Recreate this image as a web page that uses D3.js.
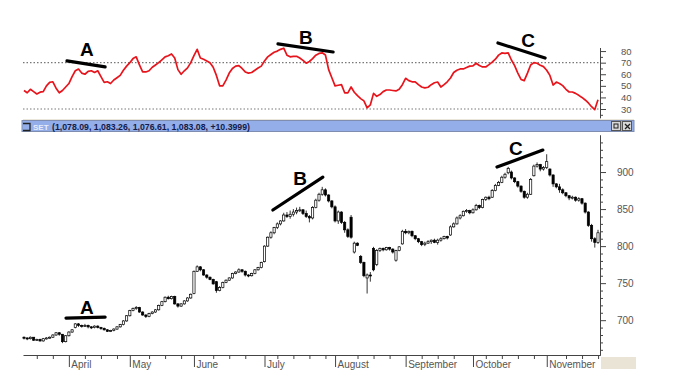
<!DOCTYPE html>
<html>
<head>
<meta charset="utf-8">
<script src="https://cdn.jsdelivr.net/npm/d3@7"></script>
<style>
  body { margin: 0; background: #fff; }
  svg { display: block; font-family: "Liberation Sans", Arial, sans-serif; }
</style>
</head>
<body>
<div id="chart"></div>
<script>
// daily candles [open, high, low, close], one per trading day
const candles = [
  [677,678,674,676],[676,677,673,675],[675,678,674,677],[677,677,672,673],[673,675,672,674],
  [674,675,671,672],[672,676,671,675],[675,677,674,676],[676,678,675,677],[677,681,676,680],
  [680,684,679,683],[683,684,679,681],[681,681,669,671],[671,680,670,679],[679,685,678,684],
  [684,688,683,687],[690,696,689,695],[695,696,691,693],[693,694,690,692],[692,695,691,693],
  [693,694,689,691],[691,692,688,690],[690,693,689,692],[692,693,689,690],[690,691,687,689],
  [689,690,686,687],[687,688,684,685],[685,687,684,686],[686,689,685,688],[688,692,687,691],
  [691,695,690,694],[694,700,693,699],[699,707,698,706],[706,714,705,713],[713,717,712,716],
  [716,719,714,717],[717,718,710,711],[711,712,706,707],[707,708,703,705],[705,710,704,709],
  [709,712,708,711],[711,715,710,714],[714,721,713,720],[720,726,719,725],[725,732,724,731],
  [731,733,728,729],[729,733,728,732],[732,733,721,722],[722,723,717,719],[719,723,718,722],
  [722,727,721,726],[726,731,725,730],[730,736,729,735],[736,767,735,766],[766,774,765,772],
  [772,773,766,768],[768,769,760,761],[761,762,756,758],[758,759,754,755],[755,756,748,749],
  [752,753,737,740],[740,746,739,744],[744,752,743,751],[751,755,750,754],[754,758,753,757],
  [757,764,756,763],[763,766,762,765],[765,770,764,768],[768,769,764,766],[766,767,759,761],
  [761,762,758,760],[760,764,759,763],[763,769,762,768],[768,772,767,771],[771,779,770,778],
  [779,801,778,800],[800,813,799,812],[812,820,810,818],[818,826,816,825],[825,832,823,830],
  [830,835,828,834],[834,845,833,842],[842,846,838,840],[840,848,837,843],[843,850,840,846],
  [846,852,843,848],[848,853,846,849],[849,850,842,844],[844,848,838,840],[840,842,832,838],
  [838,854,836,852],[852,864,851,862],[862,872,860,870],[870,880,868,876],[876,878,867,869],
  [869,870,859,861],[861,862,851,853],[853,855,832,834],[834,848,830,846],[846,847,830,832],
  [832,834,818,822],[822,824,811,813],[839,842,810,812],[792,806,790,804],[804,805,800,801],
  [786,788,776,778],[778,779,758,760],[757,763,736,761],[761,765,752,760],[797,799,766,768],
  [775,796,773,794],[794,798,792,797],[797,798,793,795],[795,799,794,798],[798,799,794,796],
  [796,797,790,792],[781,795,779,794],[794,800,793,799],[803,822,802,820],[820,823,816,818],
  [818,821,816,820],[820,821,812,814],[814,815,808,810],[810,811,804,806],[806,807,800,802],
  [802,806,800,804],[804,808,803,806],[806,809,803,808],[808,810,804,805],[805,810,802,808],
  [808,812,806,810],[810,814,809,813],[813,814,809,811],[815,828,814,826],[826,832,825,830],
  [830,840,829,838],[838,843,836,841],[841,848,840,847],[847,850,845,848],[848,849,843,845],
  [845,851,844,849],[849,857,848,855],[855,856,850,852],[852,864,851,863],[863,867,861,866],
  [866,868,862,864],[866,877,865,875],[875,884,874,882],[882,888,881,886],[886,895,885,893],
  [893,899,891,897],[899,907,897,905],[900,902,890,892],[892,893,885,887],[887,888,879,881],
  [881,882,872,874],[874,875,864,866],[866,872,864,870],[870,892,869,890],[895,910,894,908],
  [908,913,906,910],[910,911,901,904],[904,908,902,906],[906,924,904,914],[904,905,894,896],
  [896,897,880,884],[884,885,878,880],[880,884,872,876],[876,878,870,872],[872,873,866,868],
  [868,869,862,865],[865,868,863,866],[866,867,860,862],[862,866,860,864],[864,865,856,858],
  [858,859,844,846],[846,847,826,828],[828,830,806,810],[810,812,798,805],[805,822,803,818]
];

// RSI, same trading days
const rsi = [
  46,44,47,45,43,44.5,45,50,53,53.5, 48,44,46,49,52,58,63,64.5,61,60,
  62.5,63,61.5,63,58,53,53.5,52,55,57, 59,63.5,67,70,73.5,75,68,62,62,63,
  66,68,70,72.5,75,76,77.5,74,64,60, 63,65.5,70,76,81.5,74,73,71.5,70,66,
  59,50,50,55,61,65,67,67.5,65,62, 61,61.5,63.5,65.4,67,71.5,75,77,79,80,
  81.5,82.5,76.5,75,75.5,75.5,74,72,69.5,71, 73.5,76.5,78,78.5,76.6,64,57,50,50.5,51,
  44,44,49,44.5,41.5,39,37,31,33.5,43.5, 41,42.5,45,46.4,46.4,46,45.6,47,51,56.5,
  54.5,53.5,53.5,51,49,48.2,48.8,51,52.7,53.3, 49,51,53.5,56.8,61.5,63.5,64.6,64.6,65.8,67,
  67.2,69.5,67.5,66.3,66.3,68.3,70.5,73,76.5,78.4, 78,78.4,72.3,67.5,61,55.5,54.5,61,68,70,
  69.5,67.8,66.6,63.5,59,50.7,53.3,52,50.2,47, 44.7,44.7,43.5,41.8,40,37.8,35.2,32,29.5,38
];

const monthNames = ["April", "May", "June", "July", "August", "September", "October", "November"];
const monthStarts = [14, 33, 53, 75, 97, 119, 140, 163];
const priceTicks = [700, 750, 800, 850, 900];
const rsiTicks = [30, 40, 50, 60, 70, 80];
const rsiLevels = [70, 30];
const headerText = "(1,078.09, 1,083.26, 1,076.61, 1,083.08, +10.3999)";

// hand-drawn divergence marks, in data units [day, value]
const rsiNotes = [
  { label: "A", from: [13.4, 71.5], to: [25.3, 66.3], at: [19.6, 81] },
  { label: "B", from: [79.2, 86.2], to: [96.4, 79.2], at: [87.9, 91.3] },
  { label: "C", from: [147.8, 87], to: [162.5, 74], at: [157.2, 88.7] }
];
const priceNotes = [
  { label: "A", from: [13.1, 702.9], to: [25.3, 704.2], at: [19.6, 717.7] },
  { label: "B", from: [77.6, 848.7], to: [93.2, 893.2], at: [86.1, 891.9] },
  { label: "C", from: [147.5, 906.8], to: [161.8, 929.7], at: [153.4, 932.4] }
];

const width = 673, height = 379;
const svg = d3.select("#chart").append("svg")
  .attr("width", width).attr("height", height);

const x = d3.scaleLinear().domain([0, candles.length - 1]).range([24, 598]);
const yR = d3.scaleLinear().domain([22.5, 83]).range([117.7, 47.6]);
const yP = d3.scaleLinear().domain([653, 950]).range([355, 135]);
const axisX = 600;

// ---- RSI panel ----
svg.selectAll(".level").data(rsiLevels).enter().append("line")
  .attr("x1", 23).attr("x2", axisX)
  .attr("y1", d => yR(d)).attr("y2", d => yR(d))
  .attr("stroke", "#777").attr("stroke-width", 1.2).attr("stroke-dasharray", "1.5,2");

svg.append("path")
  .datum(rsi)
  .attr("fill", "none").attr("stroke", "#e8141c").attr("stroke-width", 1.7)
  .attr("stroke-linejoin", "round")
  .attr("d", d3.line().x((d, i) => x(i)).y(d => yR(d)));

function styleAxis(g) {
  g.select(".domain").attr("stroke", "#444");
  g.selectAll(".tick line").attr("stroke", "#444");
  g.selectAll("text").attr("fill", "#555");
}

const rsiMinor = d3.range(25, 85, 5).filter(v => !rsiTicks.includes(v));
svg.append("g").attr("transform", `translate(${axisX},0)`)
  .call(d3.axisRight(yR).tickValues(rsiMinor).tickSize(3).tickSizeOuter(0).tickFormat(""))
  .call(styleAxis);
svg.append("g").attr("transform", `translate(${axisX},0)`)
  .call(d3.axisRight(yR).tickValues(rsiTicks).tickSize(6).tickSizeOuter(0).tickPadding(15))
  .call(styleAxis)
  .call(g => g.selectAll("text").attr("font-size", 9.5).attr("font-family", "Liberation Sans, Arial, sans-serif"));

// ---- window title bar ----
svg.append("line").attr("x1", 23).attr("x2", 634).attr("y1", 119.5).attr("y2", 119.5)
  .attr("stroke", "#ebe6da");
svg.append("rect").attr("x", 22).attr("y", 120.5).attr("width", 612).attr("height", 11)
  .attr("fill", "#93aee8").attr("stroke", "#7e8db0").attr("stroke-width", 1);
svg.append("path").attr("d", "M23,123.5H30V130.5H23")
  .attr("fill", "none").attr("stroke", "#222").attr("stroke-width", 1.3);
svg.append("text").attr("x", 33).attr("y", 129.5).text("SET")
  .attr("font-size", 8).attr("font-weight", "bold").attr("fill", "#e6ecfa");
svg.append("text").attr("x", 52).attr("y", 129.6).text(headerText)
  .attr("font-size", 8.6).attr("font-weight", "bold").attr("fill", "#141a4a")
  .attr("textLength", 198).attr("lengthAdjust", "spacingAndGlyphs");
[611, 622].forEach((bx, k) => {
  svg.append("rect").attr("x", bx + 0.5).attr("y", 121.5).attr("width", 9).attr("height", 9)
    .attr("fill", "#d8d8d8").attr("stroke", "#555");
  if (k === 0) {
    svg.append("rect").attr("x", bx + 3).attr("y", 124).attr("width", 4).attr("height", 4)
      .attr("fill", "none").attr("stroke", "#222");
  } else {
    svg.append("path").attr("d", `M${bx + 3},124L${bx + 8},129M${bx + 8},124L${bx + 3},129`)
      .attr("stroke", "#222").attr("stroke-width", 1.3);
  }
});

// ---- price panel ----
const cg = svg.append("g");
cg.selectAll(".wick").data(candles).enter().append("line")
  .attr("x1", (d, i) => x(i)).attr("x2", (d, i) => x(i))
  .attr("y1", d => yP(d[1])).attr("y2", d => yP(d[2]))
  .attr("stroke", "#000").attr("stroke-width", 0.8);
cg.selectAll(".body").data(candles).enter().append("rect")
  .attr("x", (d, i) => x(i) - 1.1)
  .attr("width", 2.2)
  .attr("y", d => yP(Math.max(d[0], d[3])))
  .attr("height", d => Math.max(1, Math.abs(yP(d[0]) - yP(d[3]))))
  .attr("fill", d => d[3] >= d[0] ? "#fff" : "#000")
  .attr("stroke", "#000").attr("stroke-width", 0.7);

const priceMinor = d3.range(660, 950, 10).filter(v => !priceTicks.includes(v));
svg.append("g").attr("transform", `translate(${axisX},0)`)
  .call(d3.axisRight(yP).tickValues(priceMinor).tickSize(3).tickSizeOuter(0).tickFormat(""))
  .call(styleAxis);
svg.append("g").attr("transform", `translate(${axisX},0)`)
  .call(d3.axisRight(yP).tickValues(priceTicks).tickSize(6).tickSizeOuter(0).tickPadding(11))
  .call(styleAxis)
  .call(g => g.selectAll("text").attr("font-size", 10).attr("font-family", "Liberation Sans, Arial, sans-serif"));

// x axis: weekly ticks + month labels
const xAxisScale = x.copy().domain([-0.3, candles.length - 1 + 0.6]).range([23, axisX]);
const weekTicks = d3.range(4, candles.length, 5).filter(v => monthStarts.every(m => Math.abs(m - v) > 2));
svg.append("g").attr("transform", "translate(0,355)")
  .call(d3.axisBottom(xAxisScale).tickValues(weekTicks).tickSize(4).tickSizeOuter(0).tickFormat(""))
  .call(styleAxis);
svg.append("g").attr("transform", "translate(0,355)")
  .call(d3.axisBottom(xAxisScale).tickValues(monthStarts).tickSize(12).tickSizeOuter(0)
    .tickPadding(-6).tickFormat((d, i) => monthNames[i]))
  .call(styleAxis)
  .call(g => g.select(".domain").remove())
  .call(g => g.selectAll("text").attr("text-anchor", "start").attr("x", 2)
    .attr("font-size", 10).attr("font-family", "Liberation Sans, Arial, sans-serif"));

svg.append("rect").attr("x", 601).attr("y", 357).attr("width", 35).attr("height", 12)
  .attr("fill", "#e9e4d6");

// ---- annotations ----
function drawNotes(notes, yScale) {
  const g = svg.append("g");
  g.selectAll("line").data(notes).enter().append("line")
    .attr("x1", d => x(d.from[0])).attr("y1", d => yScale(d.from[1]))
    .attr("x2", d => x(d.to[0])).attr("y2", d => yScale(d.to[1]))
    .attr("stroke", "#000").attr("stroke-width", 3.2).attr("stroke-linecap", "round");
  g.selectAll("text").data(notes).enter().append("text")
    .attr("x", d => x(d.at[0])).attr("y", d => yScale(d.at[1]))
    .attr("text-anchor", "middle").attr("dominant-baseline", "central")
    .attr("font-size", 19).attr("font-weight", "bold").attr("fill", "#000")
    .text(d => d.label);
}
drawNotes(rsiNotes, yR);
drawNotes(priceNotes, yP);
</script>
</body>
</html>
